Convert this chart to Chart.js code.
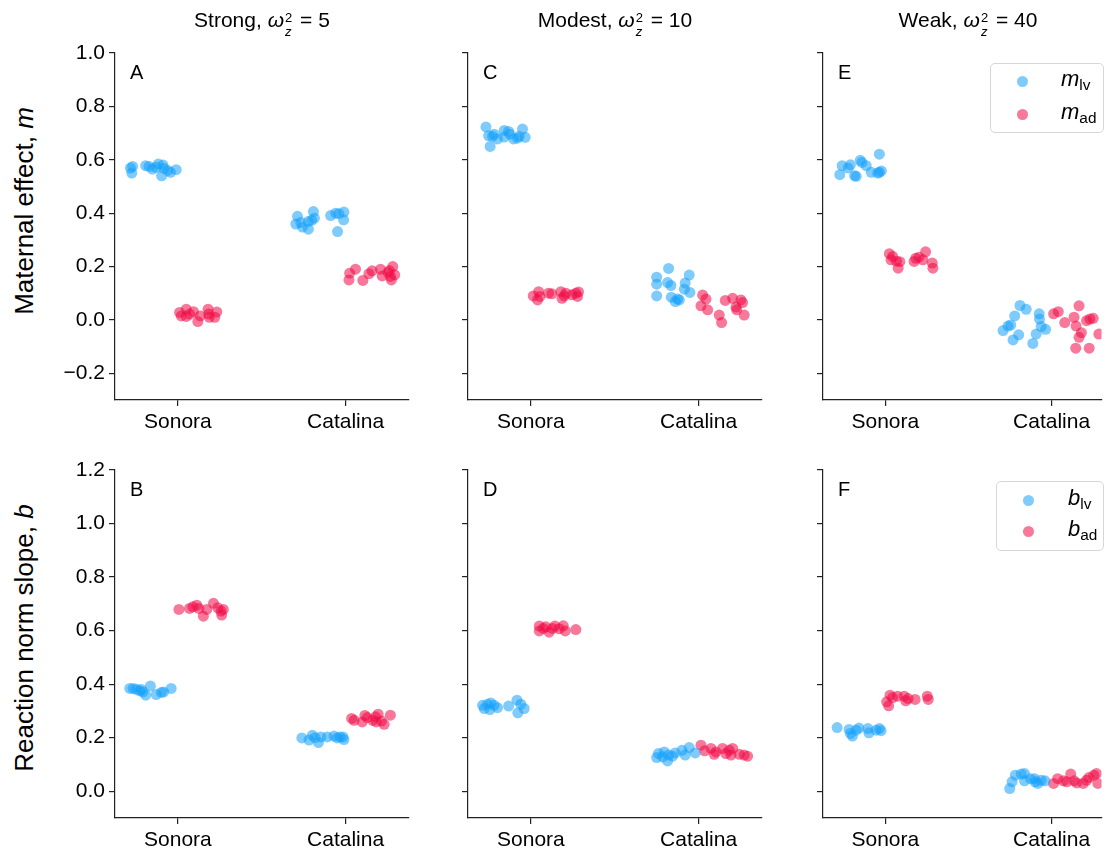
<!DOCTYPE html>
<html>
<head>
<meta charset="utf-8">
<script src="https://cdn.jsdelivr.net/npm/chart.js@4.4.1/dist/chart.umd.min.js"></script>
<style>
  html, body { margin: 0; padding: 0; background: #fff; overflow: hidden; width: 1107px; height: 852px; }
  body { position: relative; font-family: "Liberation Sans", Arial, sans-serif; color: #000; }
  canvas { position: absolute; }
  .title { position: absolute; top: 6px; font-size: 21px; line-height: 28px; white-space: nowrap; transform: translateX(-50%); }
  .ss { display: inline-flex; flex-direction: column; font-size: 0.62em; line-height: 1.1; vertical-align: 0.42em; margin: 0 2px 0 1px; }
  .ylab { position: absolute; font-size: 26px; white-space: nowrap; transform: translate(-50%, -50%) rotate(-90deg); }
  .legend { position: absolute; border: 1px solid #d6d6d6; border-radius: 5px; background: rgba(255,255,255,0.85); box-sizing: border-box; }
  .legend .dot { position: absolute; width: 11px; height: 11px; border-radius: 50%; }
  .legend .lab { position: absolute; font-size: 22px; line-height: 22px; white-space: nowrap; }
  .legend sub { font-size: 0.7em; vertical-align: -0.25em; }
</style>
</head>
<body>
<script>
const categories = ['Sonora', 'Catalina'];
const topTicks = [-0.2, 0.0, 0.2, 0.4, 0.6, 0.8, 1.0];
const bottomTicks = [0.0, 0.2, 0.4, 0.6, 0.8, 1.0, 1.2];
const panelLetters = ['A', 'C', 'E', 'B', 'D', 'F'];

// [jittered category position (0 = Sonora, 1 = Catalina), value]
const strongM_lv = [[-0.283,0.569],[-0.275,0.55],[-0.27,0.575],[-0.192,0.578],[-0.172,0.575],[-0.152,0.565],[-0.13,0.572],[-0.117,0.584],[-0.089,0.58],[-0.083,0.568],[-0.097,0.54],[-0.06,0.56],[-0.044,0.553],[-0.01,0.563],
  [0.713,0.388],[0.703,0.359],[0.733,0.365],[0.743,0.348],[0.778,0.34],[0.778,0.369],[0.808,0.406],[0.814,0.381],[0.798,0.373],[0.911,0.391],[0.941,0.4],[0.96,0.398],[0.99,0.404],[0.988,0.375],[0.952,0.331]];
const strongM_ad = [[0.01,0.028],[0.02,0.015],[0.05,0.04],[0.05,0.013],[0.093,0.031],[0.119,-0.006],[0.133,0.015],[0.18,0.04],[0.188,0.01],[0.184,0.022],[0.22,0.01],[0.232,0.03],[0.07,0.022],
  [1.02,0.15],[1.024,0.175],[1.059,0.19],[1.103,0.148],[1.139,0.173],[1.158,0.184],[1.208,0.19],[1.218,0.165],[1.253,0.178],[1.267,0.163],[1.273,0.15],[1.281,0.2],[1.293,0.169],[1.261,0.185]];
const modestM_lv = [[-0.268,0.723],[-0.252,0.69],[-0.229,0.688],[-0.243,0.65],[-0.219,0.696],[-0.199,0.678],[-0.159,0.71],[-0.159,0.685],[-0.133,0.706],[-0.125,0.696],[-0.103,0.678],[-0.08,0.681],[-0.07,0.688],[-0.05,0.715],[-0.034,0.684],
  [0.75,0.16],[0.75,0.134],[0.75,0.09],[0.821,0.193],[0.815,0.14],[0.835,0.129],[0.837,0.085],[0.861,0.069],[0.885,0.075],[0.92,0.138],[0.944,0.168],[0.915,0.115],[0.948,0.103],[0.875,0.078]];
const modestM_ad = [[0.014,0.09],[0.046,0.106],[0.04,0.075],[0.054,0.088],[0.105,0.1],[0.125,0.098],[0.179,0.106],[0.185,0.081],[0.199,0.09],[0.209,0.1],[0.245,0.094],[0.268,0.1],[0.284,0.105],[0.278,0.088],
  [1.024,0.093],[1.044,0.078],[1.014,0.053],[1.054,0.038],[1.123,0.018],[1.137,-0.01],[1.159,0.073],[1.203,0.081],[1.227,0.038],[1.252,0.075],[1.262,0.065],[1.272,0.018],[1.223,0.048]];
const weakM_lv = [[-0.274,0.544],[-0.26,0.578],[-0.224,0.569],[-0.21,0.581],[-0.185,0.54],[-0.175,0.538],[-0.151,0.598],[-0.141,0.59],[-0.115,0.578],[-0.085,0.553],[-0.036,0.621],[-0.036,0.553],[-0.024,0.558],[-0.046,0.55],
  [0.708,-0.04],[0.738,-0.023],[0.754,-0.019],[0.778,0.015],[0.768,-0.075],[0.802,-0.056],[0.81,0.054],[0.847,0.04],[0.887,-0.088],[0.907,-0.053],[0.925,0.023],[0.927,0.003],[0.937,-0.025],[0.964,-0.035]];
const weakM_ad = [[0.024,0.248],[0.034,0.225],[0.067,0.22],[0.087,0.218],[0.077,0.194],[0.173,0.219],[0.183,0.231],[0.202,0.235],[0.226,0.225],[0.242,0.255],[0.282,0.213],[0.286,0.194],[0.044,0.238],
  [1.012,0.023],[1.04,0.031],[1.079,-0.01],[1.135,0.01],[1.147,-0.023],[1.165,0.053],[1.179,-0.048],[1.165,-0.065],[1.145,-0.106],[1.21,-0.003],[1.23,0.003],[1.226,-0.106],[1.25,0.006],[1.284,-0.053]];
const strongB_lv = [[-0.287,0.384],[-0.267,0.384],[-0.248,0.381],[-0.228,0.375],[-0.208,0.371],[-0.192,0.359],[-0.164,0.393],[-0.129,0.361],[-0.099,0.369],[-0.085,0.371],[-0.04,0.384],[-0.218,0.38],
  [0.739,0.199],[0.782,0.191],[0.802,0.209],[0.818,0.2],[0.838,0.182],[0.853,0.203],[0.891,0.203],[0.931,0.206],[0.95,0.199],[0.966,0.203],[0.984,0.203],[0.99,0.193]];
const strongB_ad = [[0.006,0.679],[0.069,0.683],[0.089,0.689],[0.113,0.695],[0.125,0.683],[0.152,0.654],[0.172,0.679],[0.212,0.702],[0.238,0.685],[0.257,0.673],[0.261,0.658],[0.271,0.679],
  [1.036,0.272],[1.051,0.265],[1.099,0.259],[1.115,0.283],[1.129,0.275],[1.162,0.265],[1.178,0.278],[1.194,0.288],[1.214,0.262],[1.23,0.25],[1.267,0.284],[1.182,0.259]];
const modestB_lv = [[-0.288,0.321],[-0.278,0.309],[-0.258,0.325],[-0.245,0.305],[-0.239,0.33],[-0.219,0.321],[-0.199,0.312],[-0.133,0.318],[-0.083,0.34],[-0.078,0.293],[-0.06,0.325],[-0.04,0.309],
  [0.75,0.126],[0.761,0.141],[0.795,0.147],[0.815,0.113],[0.821,0.135],[0.845,0.131],[0.861,0.143],[0.901,0.153],[0.92,0.135],[0.944,0.163],[0.98,0.143],[0.785,0.128]];
const modestB_ad = [[0.05,0.617],[0.05,0.599],[0.089,0.614],[0.109,0.594],[0.129,0.608],[0.143,0.617],[0.193,0.618],[0.205,0.599],[0.268,0.604],[0.074,0.608],[0.169,0.607],
  [1.014,0.172],[1.036,0.151],[1.074,0.16],[1.093,0.138],[1.103,0.147],[1.143,0.16],[1.163,0.141],[1.183,0.153],[1.203,0.16],[1.193,0.135],[1.243,0.138],[1.272,0.135],[1.292,0.131]];
const weakB_lv = [[-0.29,0.238],[-0.218,0.231],[-0.21,0.216],[-0.198,0.206],[-0.175,0.228],[-0.159,0.236],[-0.105,0.234],[-0.099,0.218],[-0.056,0.228],[-0.036,0.234],[-0.026,0.226],
  [0.748,0.01],[0.762,0.035],[0.782,0.06],[0.817,0.064],[0.837,0.066],[0.837,0.039],[0.873,0.047],[0.901,0.035],[0.917,0.029],[0.937,0.041],[0.96,0.039],[0.897,0.047]];
const weakB_ad = [[0.008,0.334],[0.02,0.319],[0.028,0.359],[0.044,0.35],[0.073,0.355],[0.113,0.355],[0.123,0.338],[0.137,0.346],[0.179,0.343],[0.252,0.355],[0.258,0.343],
  [1.012,0.029],[1.036,0.047],[1.071,0.039],[1.091,0.035],[1.115,0.064],[1.151,0.031],[1.19,0.029],[1.21,0.041],[1.224,0.051],[1.254,0.06],[1.27,0.066],[1.278,0.029],[1.135,0.039]];

const lvColor = 'rgba(20,160,250,0.55)';
const adColor = 'rgba(240,10,70,0.55)';
const FONT = '"Liberation Sans", Arial, sans-serif';
const axisColor = '#222';

const fmt = v => { const s = Math.abs(v).toFixed(1); return v < -1e-9 ? '\u2212' + s : s; };

// letter in the upper left corner of each panel
const letterPlugin = {
  id: 'panelLetter',
  afterDraw(chart, args, opts) {
    const { ctx, chartArea } = chart;
    ctx.save();
    ctx.font = '20px ' + FONT;
    ctx.fillStyle = '#000';
    ctx.fillText(opts.text, chartArea.left + 15, chartArea.top + 26);
    ctx.restore();
  }
};

function makePanel(left, top, width, height, rightPad, xMax, yMin, yMax, yTicks, showY, lv, ad, letter) {
  const cv = document.createElement('canvas');
  cv.width = width; cv.height = height;
  cv.style.left = left + 'px'; cv.style.top = top + 'px';
  cv.style.width = width + 'px'; cv.style.height = height + 'px';
  document.body.appendChild(cv);
  const pts = arr => arr.map(p => ({ x: p[0], y: p[1] }));
  new Chart(cv, {
    type: 'scatter',
    data: {
      datasets: [
        { label: 'lv', data: pts(lv), backgroundColor: lvColor, borderWidth: 0, pointRadius: 5.5, pointHoverRadius: 5.5 },
        { label: 'ad', data: pts(ad), backgroundColor: adColor, borderWidth: 0, pointRadius: 5.5, pointHoverRadius: 5.5 }
      ]
    },
    options: {
      responsive: false,
      animation: false,
      events: [],
      layout: { padding: { left: 0, top: 20, right: rightPad, bottom: 0 } },
      plugins: { legend: { display: false }, tooltip: { enabled: false }, panelLetter: { text: letter } },
      scales: {
        x: {
          type: 'linear', min: -0.375, max: xMax,
          afterBuildTicks: s => { s.ticks = categories.map((c, i) => ({ value: i })); },
          afterFit: s => { s.height = 45; },
          ticks: { callback: v => categories[v], color: '#000', font: { size: 21, family: FONT }, padding: 4, maxRotation: 0, autoSkip: false },
          grid: { drawOnChartArea: false, drawTicks: true, tickLength: 6, color: axisColor, lineWidth: 1.2 },
          border: { display: true, color: axisColor, width: 1.2 }
        },
        y: {
          min: yMin, max: yMax,
          afterBuildTicks: s => { s.ticks = yTicks.map(v => ({ value: v })); },
          afterFit: s => { s.width = 70; },
          ticks: { display: showY, callback: v => fmt(v), color: '#000', font: { size: 21, family: FONT }, padding: 4 },
          grid: { drawOnChartArea: false, drawTicks: true, tickLength: 6, color: axisColor, lineWidth: 1.2 },
          border: { display: true, color: axisColor, width: 1.2 }
        }
      }
    },
    plugins: [letterPlugin]
  });
}

// top row: maternal effect m
makePanel(45, 33, 369, 412, 4, 1.375, -0.3, 1.0, topTicks, true, strongM_lv, strongM_ad, panelLetters[0]);
makePanel(398, 33, 369, 412, 4, 1.375, -0.3, 1.0, topTicks, false, modestM_lv, modestM_ad, panelLetters[1]);
makePanel(753, 33, 354, 412, 3, 1.3, -0.3, 1.0, topTicks, false, weakM_lv, weakM_ad, panelLetters[2]);
// bottom row: reaction norm slope b
makePanel(45, 450, 369, 413, 4, 1.375, -0.1, 1.2, bottomTicks, true, strongB_lv, strongB_ad, panelLetters[3]);
makePanel(398, 450, 369, 413, 4, 1.375, -0.1, 1.2, bottomTicks, false, modestB_lv, modestB_ad, panelLetters[4]);
makePanel(753, 450, 354, 413, 3, 1.3, -0.1, 1.2, bottomTicks, false, weakB_lv, weakB_ad, panelLetters[5]);

// column titles
const titles = [['Strong', '5', 262], ['Modest', '10', 615], ['Weak', '40', 968]];
titles.forEach(([name, val, cx]) => {
  const d = document.createElement('div');
  d.className = 'title';
  d.style.left = cx + 'px';
  d.innerHTML = name + ', <i>\u03c9</i><span class="ss"><span>2</span><span><i>z</i></span></span> = ' + val;
  document.body.appendChild(d);
});

// y axis labels
[['Maternal effect, <i>m</i>', 211], ['Reaction norm slope, <i>b</i>', 638]].forEach(([html, cy]) => {
  const d = document.createElement('div');
  d.className = 'ylab';
  d.style.left = '24px'; d.style.top = cy + 'px';
  d.innerHTML = html;
  document.body.appendChild(d);
});

// legends
function makeLegend(left, top, w, h, sym, dotX, rows, textX) {
  const box = document.createElement('div');
  box.className = 'legend';
  Object.assign(box.style, { left: left + 'px', top: top + 'px', width: w + 'px', height: h + 'px' });
  [['lv', lvColor], ['ad', adColor]].forEach(([sub, col], i) => {
    const dot = document.createElement('div');
    dot.className = 'dot';
    Object.assign(dot.style, { left: (dotX - 5.5) + 'px', top: (rows[i] - 5.5) + 'px', background: col });
    box.appendChild(dot);
    const lab = document.createElement('div');
    lab.className = 'lab';
    Object.assign(lab.style, { left: textX + 'px', top: (rows[i] - 13) + 'px' });
    lab.innerHTML = '<i>' + sym + '</i><sub>' + sub + '</sub>';
    box.appendChild(lab);
  });
  document.body.appendChild(box);
}
makeLegend(990, 63, 114, 70, 'm', 31, [17, 50], 70);
makeLegend(996, 481, 108, 70, 'b', 31, [18, 49], 71);
</script>
</body>
</html>
